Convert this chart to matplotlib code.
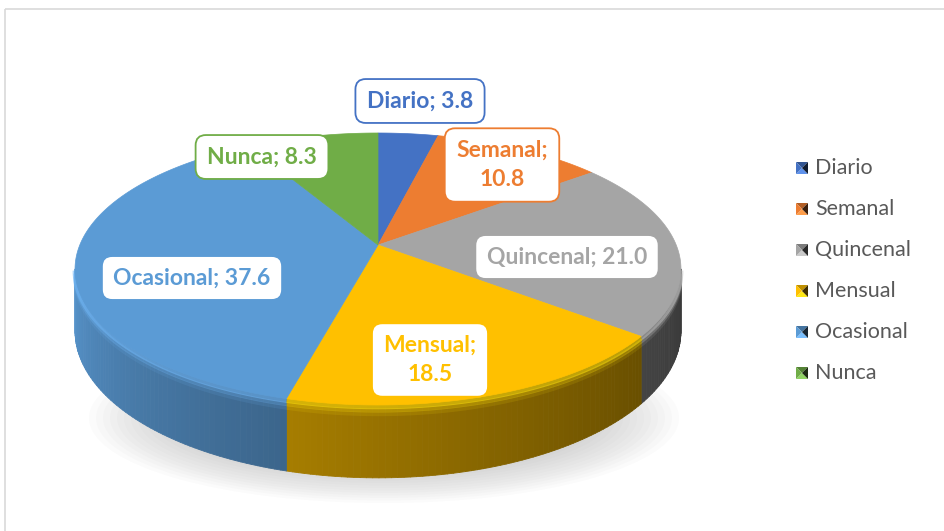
import numpy as np
import matplotlib.pyplot as plt
from matplotlib.patches import Polygon, Ellipse, Rectangle
from matplotlib.collections import PolyCollection

# datos
categorias = ['Diario', 'Semanal', 'Quincenal', 'Mensual', 'Ocasional', 'Nunca']
valores = [3.8, 10.8, 21.0, 18.5, 37.6, 8.3]
colores = ['#4472C4', '#ED7D31', '#A5A5A5', '#FFC000', '#5B9BD5', '#70AD47']
dos_lineas = [False, True, False, True, False, False]

# posiciones de etiquetas (px)
pos_etiq = [(420, 101), (502, 165), (567, 257), (430, 360), (192, 278), (262, 157)]

# geometria del pastel 3D (px)
cx, cy = 378, 245
A, B, D = 1690.0, 746.7, 5.667
H0 = 60.0

plt.rcParams['font.family'] = ['Lato', 'DejaVu Sans']


def proy(th, drop=0.0):
    X = np.sin(th)
    Z = np.cos(th)
    x = cx + A * X / (D + Z)
    y = cy - B * Z / (D + Z) + drop * D / (D + Z)
    return x, y


def rgb(c):
    c = c.lstrip('#')
    return np.array([int(c[i:i + 2], 16) for i in (0, 2, 4)]) / 255.0


fig = plt.figure(figsize=(9.45, 5.31), dpi=100)
ax = fig.add_axes([0, 0, 1, 1])
ax.set_xlim(0, 945)
ax.set_ylim(531, 0)
ax.axis('off')

# marco del grafico
ax.add_patch(Rectangle((5, 9), 960, 540, fill=False, edgecolor='#D9D9D9', lw=1.2))

# sombra
for k in range(12):
    ax.add_patch(Ellipse((384, 418), 590 - k * 14, 170 - k * 5, facecolor='#7F7F7F',
                         edgecolor='none', alpha=0.028, zorder=1))

total = sum(valores)
lim = np.cumsum([0] + valores) / total * 2 * np.pi
th_min = np.arccos(-1 / D)
th_max = 2 * np.pi - th_min

# lateral
for i in range(len(valores)):
    a0 = max(lim[i], th_min)
    a1 = min(lim[i + 1], th_max)
    if a1 <= a0:
        continue
    ths = np.linspace(a0, a1, max(3, int(np.degrees(a1 - a0)) + 2))
    polys = []
    cols = []
    base = rgb(colores[i])
    for t0, t1 in zip(ths[:-1], ths[1:]):
        x0, y0 = proy(t0)
        x1, y1 = proy(t1)
        x0b, y0b = proy(t0, H0)
        x1b, y1b = proy(t1, H0)
        polys.append([(x0, y0), (x1, y1), (x1b, y1b), (x0b, y0b)])
        tm = np.degrees((t0 + t1) / 2)
        f = 0.35 + 0.6 * np.clip((tm - 100) / 160, 0, 1) ** 1.3
        cols.append(np.clip(base * f, 0, 1))
    ax.add_collection(PolyCollection(polys, facecolors=cols, edgecolors=cols, lw=0.6, zorder=2))
    # bisel del borde
    for d, lw, al in [(1.5, 3.5, 0.55), (4.5, 3.0, 0.3), (7.5, 3.0, 0.12)]:
        xs, ys = proy(ths, d)
        ax.plot(xs, ys, color=np.clip(base * 1.1 + 0.05, 0, 1), lw=lw, alpha=al, zorder=3,
                solid_capstyle='butt')

# cara superior
for i in range(len(valores)):
    ths = np.linspace(lim[i], lim[i + 1], 200)
    xs, ys = proy(ths)
    pts = [(cx, cy)] + list(zip(xs, ys))
    ax.add_patch(Polygon(pts, closed=True, facecolor=colores[i], edgecolor=colores[i],
                         lw=0.5, zorder=4))

# etiquetas
for i in range(len(valores)):
    sep = '\n' if dos_lineas[i] else ' '
    txt = f'{categorias[i]};{sep}{valores[i]:.1f}'
    ax.text(pos_etiq[i][0], pos_etiq[i][1], txt, ha='center', va='center',
            fontsize=16.5, fontweight='bold', color=colores[i], linespacing=1.5, zorder=6,
            bbox=dict(boxstyle='round,pad=0.5,rounding_size=0.45', facecolor='white',
                      edgecolor=colores[i], lw=1.3))

# leyenda
for i in range(len(categorias)):
    ly = 168 + i * 41
    x0, x1 = 796, 808
    y0, y1 = ly - 6, ly + 6
    xm, ym = (x0 + x1) / 2, ly
    base = rgb(colores[i])
    ax.add_patch(Polygon([(x0, y0), (x1, y0), (xm, ym)], facecolor=base * 0.75, edgecolor='none', zorder=6))
    ax.add_patch(Polygon([(x0, y1), (x1, y1), (xm, ym)], facecolor=np.clip(base * 1.1 + 0.08, 0, 1), edgecolor='none', zorder=6))
    ax.add_patch(Polygon([(x0, y0), (x0, y1), (xm, ym)], facecolor=base, edgecolor='none', zorder=6))
    ax.add_patch(Polygon([(x1, y0), (x1, y1), (xm, ym)], facecolor=base * 0.25, edgecolor='none', zorder=6))
    ax.text(815, ly, categorias[i], ha='left', va='center', fontsize=15.5, color='#595959', zorder=6)

fig.savefig('out.png', dpi=100)
